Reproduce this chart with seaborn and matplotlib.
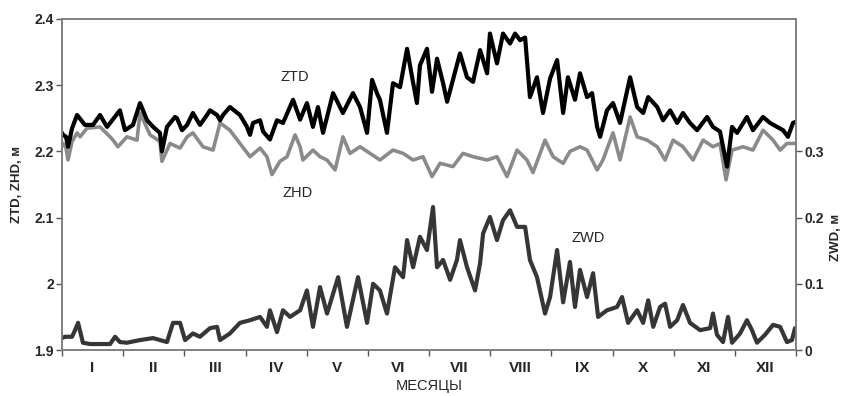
import numpy as np
import pandas as pd
import matplotlib
matplotlib.use("Agg")
import matplotlib.pyplot as plt
import seaborn as sns

# ---------------- data ----------------
months = ["I", "II", "III", "IV", "V", "VI", "VII", "VIII", "IX", "X", "XI", "XII"]

ztd_day = [0.0, 0.5, 2.0, 3.0, 5.0, 7.5, 11.4, 15.4, 18.9, 22.4, 28.8, 31.3, 35.3, 38.8, 42.3,
           45.3, 48.7, 49.7, 52.2, 56.2, 57.2, 59.7, 62.2, 65.1, 68.6, 72.1, 73.6, 77.1, 78.6,
           80.1, 83.5, 88.5, 92.0, 93.5, 95.0, 98.5, 100.0, 103.4, 106.9, 109.9, 114.9, 118.4,
           121.8, 124.8, 127.3, 129.8, 134.8, 139.7, 144.7, 148.2, 151.7, 154.2, 156.6, 158.1,
           161.6, 164.6, 168.1, 171.6, 174.1, 176.5, 178.0, 181.5, 184.0, 186.5, 189.5, 191.5,
           194.4, 197.9, 201.4, 204.4, 207.9, 211.4, 212.8, 216.3, 219.3, 222.8, 225.3, 227.8,
           230.3, 232.7, 236.2, 239.2, 242.7, 246.2, 249.2, 251.6, 255.1, 257.6, 261.1, 263.6,
           266.1, 267.6, 271.0, 274.0, 277.5, 282.5, 286.0, 289.0, 291.5, 296.0, 298.9, 302.4,
           305.9, 308.8, 312.3, 315.8, 320.8, 323.7, 327.2, 330.7, 333.2, 335.7, 340.6, 343.6,
           348.6, 352.1, 355.6, 358.6, 361.0, 363.5, 365.0]
ztd_val = [2.228, 2.225, 2.222, 2.207, 2.235, 2.255, 2.240, 2.240, 2.255, 2.237, 2.262, 2.232, 2.240, 2.273, 2.247,
           2.237, 2.228, 2.200, 2.237, 2.252, 2.250, 2.232, 2.240, 2.258, 2.240, 2.255, 2.262, 2.255, 2.247,
           2.255, 2.267, 2.255, 2.237, 2.225, 2.243, 2.247, 2.230, 2.218, 2.247, 2.243, 2.278, 2.248,
           2.273, 2.237, 2.267, 2.228, 2.288, 2.258, 2.288, 2.267, 2.228, 2.308, 2.288, 2.278,
           2.228, 2.303, 2.297, 2.355, 2.312, 2.273, 2.330, 2.355, 2.290, 2.340, 2.303, 2.275,
           2.308, 2.348, 2.312, 2.305, 2.353, 2.318, 2.378, 2.333, 2.378, 2.363, 2.378, 2.368,
           2.372, 2.282, 2.312, 2.258, 2.310, 2.338, 2.258, 2.312, 2.278, 2.318, 2.282, 2.288,
           2.237, 2.222, 2.262, 2.273, 2.243, 2.312, 2.267, 2.258, 2.282, 2.267, 2.247, 2.262,
           2.243, 2.258, 2.243, 2.232, 2.252, 2.237, 2.230, 2.177, 2.237, 2.228, 2.252, 2.232,
           2.252, 2.243, 2.237, 2.232, 2.222, 2.243, 2.245]

zhd_day = [0.0, 0.5, 2.0, 3.0, 5.0, 7.5, 9.0, 12.4, 18.9, 23.9, 25.4, 27.8, 32.3, 37.3, 38.8, 43.8,
           48.7, 49.7, 53.7, 58.7, 62.2, 65.1, 70.1, 75.1, 78.6, 83.5, 88.5, 93.5, 98.5, 101.9,
           104.4, 108.4, 111.9, 115.9, 118.4, 119.8, 124.8, 128.3, 131.8, 135.8, 139.7, 143.2,
           148.2, 153.2, 158.1, 164.6, 169.6, 174.6, 179.5, 184.0, 188.0, 194.4, 199.4, 204.4,
           211.4, 216.3, 221.3, 226.3, 231.2, 234.2, 240.2, 244.2, 249.2, 252.6, 257.6, 261.1,
           266.1, 269.0, 274.0, 277.5, 282.5, 286.0, 291.0, 296.0, 299.9, 303.9, 308.8, 313.8,
           318.8, 323.7, 327.2, 330.2, 333.2, 338.7, 343.6, 348.6, 353.6, 357.1, 360.5, 365.0]
zhd_val = [2.210, 2.212, 2.205, 2.187, 2.215, 2.228, 2.222, 2.235, 2.237, 2.222, 2.217, 2.207, 2.222, 2.217, 2.258, 2.225,
           2.215, 2.185, 2.212, 2.205, 2.222, 2.228, 2.207, 2.202, 2.243, 2.232, 2.212, 2.192, 2.205, 2.192,
           2.165, 2.185, 2.192, 2.225, 2.207, 2.187, 2.202, 2.192, 2.187, 2.172, 2.222, 2.197,
           2.207, 2.197, 2.187, 2.202, 2.197, 2.187, 2.192, 2.162, 2.182, 2.177, 2.197, 2.192,
           2.187, 2.192, 2.162, 2.202, 2.187, 2.168, 2.217, 2.192, 2.182, 2.200, 2.207, 2.202,
           2.172, 2.187, 2.228, 2.187, 2.252, 2.222, 2.217, 2.207, 2.187, 2.217, 2.207, 2.187,
           2.217, 2.207, 2.212, 2.157, 2.202, 2.207, 2.202, 2.232, 2.217, 2.202, 2.212, 2.212]

zwd_day = [0.0, 1.5, 5.0, 6.5, 8.0, 10.4, 13.9, 23.9, 26.4, 28.8, 32.3, 38.8, 45.3, 52.2, 55.2,
           58.7, 61.2, 65.1, 68.6, 73.6, 77.1, 78.6, 83.5, 88.5, 93.5, 98.5, 101.9, 103.4,
           106.9, 109.9, 113.4, 118.4, 121.8, 124.8, 128.3, 131.8, 137.3, 141.7, 147.2, 151.7,
           154.7, 158.1, 161.6, 165.6, 169.6, 171.6, 174.6, 178.0, 181.5, 184.5, 186.5, 189.5,
           193.0, 196.4, 197.9, 201.4, 205.4, 207.9, 209.4, 212.8, 216.3, 219.3, 222.8, 226.3,
           230.3, 232.7, 236.2, 240.2, 242.7, 246.2, 249.2, 252.6, 255.1, 257.6, 261.1, 264.1,
           266.6, 271.0, 276.0, 278.5, 281.5, 286.0, 289.0, 291.5, 294.0, 297.4, 299.9, 302.4,
           305.9, 308.8, 312.3, 317.3, 322.3, 323.7, 325.7, 328.7, 331.2, 333.2, 337.2, 340.6,
           343.1, 345.6, 349.6, 353.6, 357.1, 360.5, 363.0, 364.5]
zwd_val = [0.018, 0.020, 0.020, 0.030, 0.041, 0.011, 0.009, 0.009, 0.020, 0.012, 0.011, 0.015, 0.018, 0.012, 0.041,
           0.041, 0.015, 0.025, 0.020, 0.033, 0.035, 0.015, 0.025, 0.041, 0.045, 0.050, 0.035, 0.060,
           0.027, 0.060, 0.050, 0.060, 0.090, 0.035, 0.095, 0.055, 0.110, 0.035, 0.110, 0.041,
           0.100, 0.090, 0.055, 0.125, 0.110, 0.166, 0.125, 0.171, 0.151, 0.216, 0.125, 0.136,
           0.106, 0.136, 0.166, 0.125, 0.090, 0.131, 0.176, 0.201, 0.166, 0.196, 0.211, 0.186,
           0.186, 0.136, 0.110, 0.055, 0.080, 0.151, 0.072, 0.133, 0.065, 0.121, 0.080, 0.116,
           0.050, 0.060, 0.065, 0.080, 0.041, 0.060, 0.041, 0.075, 0.035, 0.065, 0.070, 0.035,
           0.045, 0.068, 0.041, 0.030, 0.033, 0.055, 0.023, 0.012, 0.050, 0.011, 0.025, 0.045,
           0.030, 0.011, 0.023, 0.038, 0.035, 0.012, 0.015, 0.033]

left_ticks = [1.9, 2.0, 2.1, 2.2, 2.3, 2.4]
left_tick_labels = ["1.9", "2", "2.1", "2.2", "2.3", "2.4"]
right_ticks = [0.0, 0.1, 0.2, 0.3]
right_tick_labels = ["0", "0.1", "0.2", "0.3"]

df_ztd = pd.DataFrame({"day": ztd_day, "value": ztd_val})
df_zhd = pd.DataFrame({"day": zhd_day, "value": zhd_val})
df_zwd = pd.DataFrame({"day": zwd_day, "value": zwd_val})

# ---------------- style ----------------
sns.set_style("white")
plt.rcParams["font.family"] = ["Liberation Sans", "DejaVu Sans"]

fig = plt.figure(figsize=(8.42, 3.96), dpi=100)
ax = fig.add_axes([62 / 842, 46 / 396, (796 - 62) / 842, (377 - 46) / 396])
ax2 = ax.twinx()

sns.lineplot(data=df_zwd, x="day", y="value", ax=ax2, color="#363636", lw=3.0,
             estimator=None, sort=True)
sns.lineplot(data=df_zhd, x="day", y="value", ax=ax, color="#8a8a8a", lw=2.6,
             estimator=None, sort=True)
sns.lineplot(data=df_ztd, x="day", y="value", ax=ax, color="#000000", lw=3.0,
             estimator=None, sort=True)

ax.set_xlim(0, 365)
ax.set_ylim(1.9, 2.4)
ax2.set_ylim(0.0, 0.5)

month_edges = np.linspace(0, 365, 13)
month_centers = (month_edges[:-1] + month_edges[1:]) / 2
ax.set_xticks(month_edges)
ax.set_xticklabels([])
ax.set_xticks(month_centers, minor=True)
ax.set_xticklabels(months, minor=True, fontsize=11, fontweight="bold")
ax.tick_params(axis="x", which="major", direction="out", length=4, width=1, color="#555555", bottom=True)
ax.tick_params(axis="x", which="minor", length=0, pad=8)

ax.set_yticks(left_ticks)
ax.set_yticklabels(left_tick_labels, fontsize=10, fontweight="bold")
ax.tick_params(axis="y", direction="out", length=4, width=1, color="#555555", left=True, pad=2)

ax2.set_yticks(right_ticks)
ax2.set_yticklabels(right_tick_labels, fontsize=10, fontweight="bold")
ax2.tick_params(axis="y", direction="out", length=4, width=1, color="#555555", right=True, pad=2)

for a in (ax, ax2):
    for s in a.spines.values():
        s.set_visible(True)
        s.set_color("#808080")
        s.set_linewidth(1.2)
    a.grid(False)

ax.set_xlabel("МЕСЯЦЫ", fontsize=10.5, labelpad=3)
ax.set_ylabel("ZTD, ZHD, м", fontsize=9.5, fontweight="bold", labelpad=8)
ax2.set_ylabel("")
fig.text(836 / 842, 1 - 237 / 396, "ZWD, м", rotation=90, fontsize=9.5, fontweight="bold",
         ha="center", va="center")

ax.text(116, 2.312, "ZTD", fontsize=10.5, ha="center", va="center")
ax.text(117, 2.137, "ZHD", fontsize=10.5, ha="center", va="center")
ax2.text(261.5, 0.169, "ZWD", fontsize=10.5, ha="center", va="center")

fig.savefig("out.png", dpi=100)
